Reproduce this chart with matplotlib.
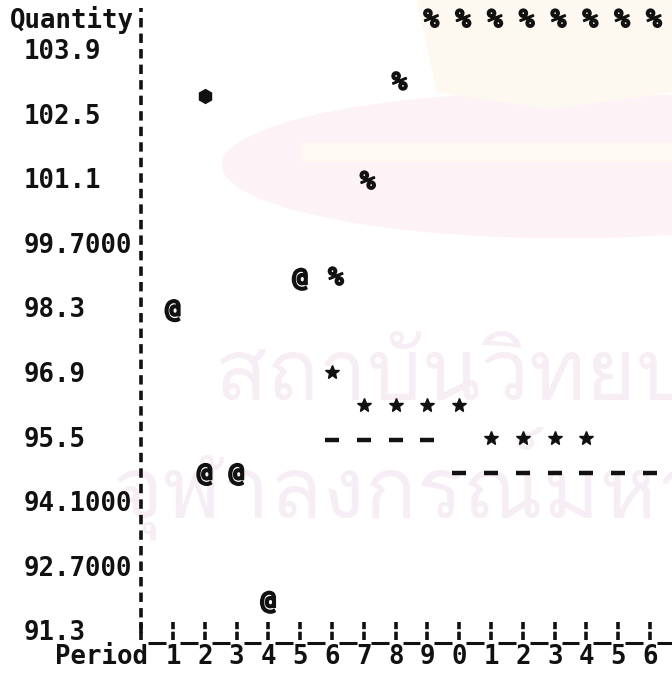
import matplotlib
matplotlib.use("Agg")
import matplotlib.pyplot as plt
import matplotlib.patches as patches
import matplotlib.patheffects as pe
from matplotlib import font_manager
from matplotlib.ft2font import FT2Font

# ==========================================
# DATA
# ==========================================
periods = list(range(1, 17))
period_labels = ['1', '2', '3', '4', '5', '6', '7', '8', '9', '0',
                 '1', '2', '3', '4', '5', '6']

y_ticks = [103.9, 102.5, 101.1, 99.7, 98.3, 96.9, 95.5, 94.1, 92.7, 91.3]
y_tick_labels = ['103.9', '102.5', '101.1', '99.7000', '98.3', '96.9',
                 '95.5', '94.1000', '92.7000', '91.3']

# '@' series
at_periods = [1, 2, 3, 4, 5]
at_values = [98.3, 94.75, 94.75, 91.98, 98.98]

# '%' series (last eight run off the top of the page)
pct_periods = [6, 7, 8, 9, 10, 11, 12, 13, 14, 15, 16]
pct_values = [99.0, 101.08, 103.23, 104.59, 104.59, 104.59, 104.59,
              104.59, 104.59, 104.59, 104.59]

# '*' series
star_periods = [6, 7, 8, 9, 10, 11, 12, 13, 14]
star_values = [96.96, 96.25, 96.25, 96.25, 96.25, 95.53, 95.53, 95.53, 95.53]

# '-' series
dash_periods = [6, 7, 8, 9, 10, 11, 12, 13, 14, 15, 16]
dash_values = [95.49, 95.49, 95.49, 95.49, 94.78, 94.78, 94.78, 94.78,
               94.78, 94.78, 94.78]

# smudged symbol at period 2
blob_periods = [2]
blob_values = [102.95]

watermark_lines = ['สถาบันวิทยบริการ', 'จุฬาลงกรณ์มหาวิทยาลัย']

MONO = 'DejaVu Sans Mono'
INK = '#111111'
FS = 18.5
heavy = [pe.withStroke(linewidth=1.2, foreground=INK)]


def find_thai_family():
    # first installed font that has Thai glyphs, if any
    for f in font_manager.fontManager.ttflist:
        try:
            if 0x0E01 in FT2Font(f.fname).get_charmap():
                return f.name
        except Exception:
            pass
    return None


fig = plt.figure(figsize=(6.72, 6.82), dpi=100)
ax = fig.add_axes([0, 0, 1, 1])
ax.set_xlim(-4.44, 16.69)
ax.set_ylim(90.246, 105.027)
ax.axis('off')

# ==========================================
# faint library watermark (crest + text)
# ==========================================
ax.add_patch(patches.Ellipse((0.84, 0.758), 1.02, 0.215, transform=ax.transAxes,
                             facecolor='#fdf3f6', edgecolor='none', zorder=0))
ax.add_patch(patches.Rectangle((0.45, 0.762), 0.6, 0.028, transform=ax.transAxes,
                               facecolor='#fefaf3', edgecolor='none', zorder=0))
ax.add_patch(patches.Polygon([(0.62, 1.0), (1.0, 1.0), (1.0, 0.865),
                              (0.82, 0.84), (0.65, 0.865)],
                             closed=True, transform=ax.transAxes,
                             facecolor='#fdf9f0', edgecolor='none', zorder=0))

thai = find_thai_family()
if thai:
    ax.text(2.32, 96.36, watermark_lines[0], family=thai, fontsize=62,
            color='#f7edf4', ha='left', va='baseline', zorder=0)
    ax.text(-0.89, 93.82, watermark_lines[1], family=thai, fontsize=62,
            color='#f7edf4', ha='left', va='baseline', zorder=0)

# ==========================================
# axes drawn like the line printer did
# ==========================================
ax.plot([0, 0], [91.3, 104.85], color=INK, lw=2.6,
        linestyle=(0, (2.6, 1.7)), solid_capstyle='butt', zorder=2)
ax.vlines([0] + periods, 91.15, 91.55, color=INK, lw=2.6,
          linestyles=[(0, (2.3, 0.7))], zorder=2)
ax.hlines([91.09] * len(periods), [p - 0.78 for p in periods],
          [p - 0.22 for p in periods], color=INK, lw=2.2, zorder=2)
ax.hlines(91.09, 16.22, 16.78, color=INK, lw=2.2, zorder=2)

ax.text(-4.13, 104.6, 'Quantity', family=MONO, fontweight='bold',
        fontsize=FS, color=INK, ha='left', va='center')
for v, lab in zip(y_ticks, y_tick_labels):
    ax.text(-3.69, v, lab, family=MONO, fontweight='bold', fontsize=FS,
            color=INK, ha='left', va='center')

ax.text(-2.71, 90.79, 'Period', family=MONO, fontweight='bold', fontsize=FS,
        color=INK, ha='left', va='center')
for p, lab in zip(periods, period_labels):
    ax.text(p, 90.79, lab, family=MONO, fontweight='bold', fontsize=FS,
            color=INK, ha='center', va='center')

# ==========================================
# plotted symbols
# ==========================================
for p, v in zip(at_periods, at_values):
    ax.text(p, v, '@', family=MONO, fontweight='bold', fontsize=FS,
            color=INK, ha='center', va='center', zorder=3, path_effects=heavy)
for p, v in zip(pct_periods, pct_values):
    ax.text(p + 0.12, v, '%', family=MONO, fontweight='bold', fontsize=FS,
            color=INK, ha='center', va='center', zorder=3, path_effects=heavy)

ax.plot(star_periods, star_values, linestyle='none', marker='*', ms=10,
        color=INK, zorder=3)
ax.plot(dash_periods, dash_values, linestyle='none', marker='_', ms=9.5,
        mew=3.2, color=INK, zorder=3)
ax.plot(blob_periods, blob_values, linestyle='none', marker='h', ms=10,
        color=INK, zorder=3)

fig.savefig('out.png', dpi=100, facecolor='white')
